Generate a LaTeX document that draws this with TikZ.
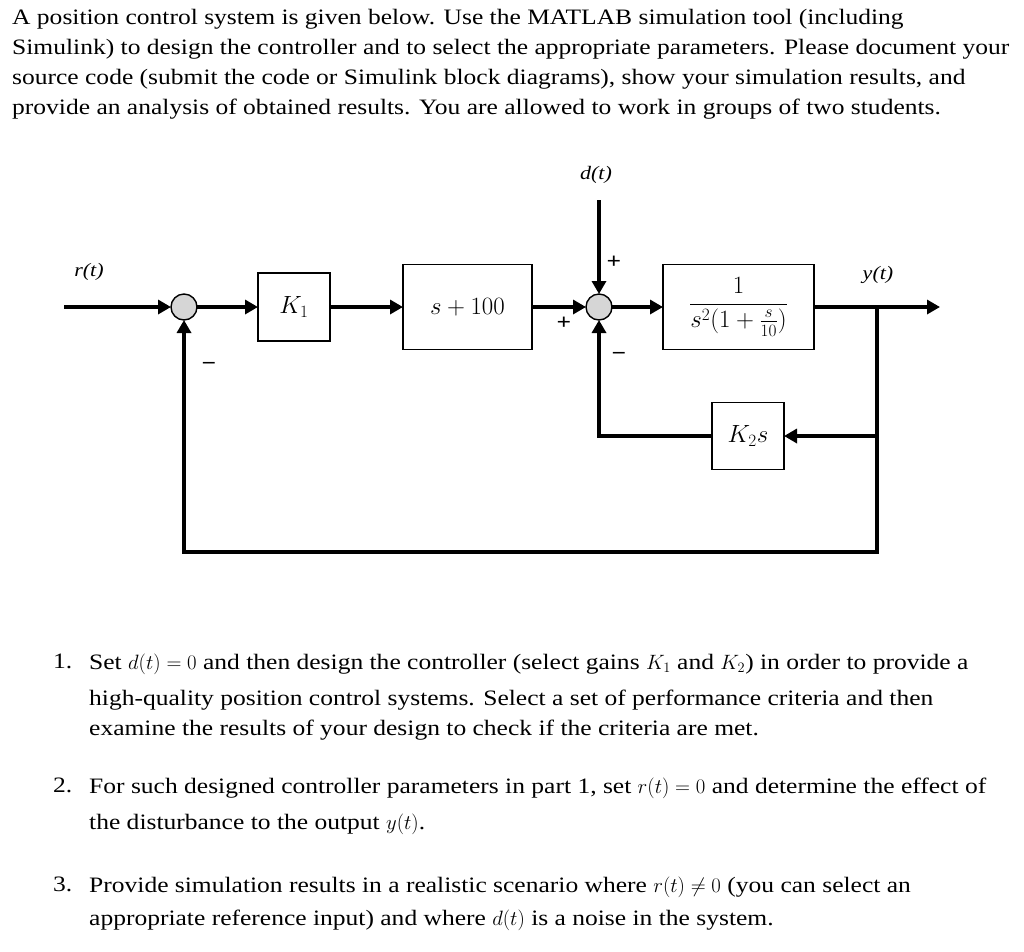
\documentclass[tikz,border=0pt]{standalone}
\usepackage{amsmath,amssymb}
\usepackage{fontspec}
\setmainfont{Liberation Serif}[FakeStretch=1.16]
\usepackage{tikz}
\usetikzlibrary{arrows.meta, positioning, calc}

\begin{document}
\begin{tikzpicture}[x=1pt, y=-1pt, >={Triangle[length=13pt,width=14pt]}]
    \tikzset{
        block/.style={rectangle, draw, line width=1.4pt, outer sep=0pt, minimum width=72pt, minimum height=68pt, inner sep=0pt, font=\fontsize{23}{26}\selectfont},
        junction/.style={circle, draw, line width=1.4pt, outer sep=0pt, fill=black!16, minimum size=26pt, inner sep=0pt},
        line/.style={draw, ->, line width=3.6pt},
        sign/.style={font=\fontsize{22}{24}\selectfont\bfseries},
        signal/.style={font=\fontsize{19}{22}\selectfont\itshape},
        para/.style={anchor=north west, align=left, inner sep=0pt, font=\fontsize{22}{30}\selectfont}
    }
    \useasboundingbox (0,0) rectangle (1024,951);

    % task text
    \node (Intro) [para] at (12,9.5) {A position control system is given below. Use the MATLAB simulation tool (including\\
        Simulink) to design the controller and to select the appropriate parameters. Please document your\\
        source code (submit the code or Simulink block diagrams), show your simulation results, and\\
        provide an analysis of obtained results. You are allowed to work in groups of two students.};

    % block diagram
    \coordinate (In) at (64,307);
    \node (SumA) [junction] at (184,307) {};
    \node (K1) [block, right=61pt of SumA] {$K_1$};
    \node (Lead) [block, minimum width=129pt, minimum height=85pt, right=73pt of K1] {$s+100$};
    \node (SumB) [junction, right=54pt of Lead] {};
    \node (Plant) [block, minimum width=151pt, minimum height=85pt, right=51pt of SumB, font=\fontsize{24}{26}\selectfont] {$\dfrac{1}{s^2(1+\frac{s}{10})}$};
    \coordinate (Out) at (940,307);
    \coordinate (Branch) at (877,307);
    \node (K2) [block, minimum height=67pt] at (748,436) {$K_2s$};
    \coordinate (Dist) at (SumB |- 0,200);
    \coordinate (Corner) at (184,552);

    \node (RLabel) [signal] at (89,272) {r(t)};
    \node (DLabel) [signal] at (596,175) {d(t)};
    \node (YLabel) [signal] at (878,275) {y(t)};
    \node (PlusD) [sign] at (614,262) {+};
    \node (PlusL) [sign] at (564,323) {+};
    \node (MinusB) [sign] at (619,356) {−};
    \node (MinusA) [sign] at (209,366) {−};

    \path [line] (In) -- (SumA);
    \path [line] (SumA) -- (K1);
    \path [line] (K1) -- (Lead);
    \path [line] (Lead) -- (SumB);
    \path [line] (SumB) -- (Plant);
    \path [line] (Plant) -- (Out);
    \path [line] (Dist) -- (SumB);
    \path [line] (Branch) |- (K2);
    \path [line] (K2) -| (SumB);
    \path [line] (Branch) |- (Corner) -- (SumA);

    % questions
    \node (N1) [para] at (53,653.5) {1.};
    \node (Q1) [para] at (89,653.5) {Set $d(t)=0$ and then design the controller (select gains $K_1$ and $K_2$) in order to provide a\\[6pt]
        high-quality position control systems. Select a set of performance criteria and then\\
        examine the results of your design to check if the criteria are met.};
    \node (N2) [para] at (53,777.5) {2.};
    \node (Q2) [para] at (89,777.5) {For such designed controller parameters in part 1, set $r(t)=0$ and determine the effect of\\[6pt]
        the disturbance to the output $y(t)$.};
    \node (N3) [para] at (53,876.5) {3.};
    \node (Q3) [para] at (89,876.5) {Provide simulation results in a realistic scenario where $r(t)\neq 0$ (you can select an\\[3pt]
        appropriate reference input) and where $d(t)$ is a noise in the system.};
\end{tikzpicture}
\end{document}
